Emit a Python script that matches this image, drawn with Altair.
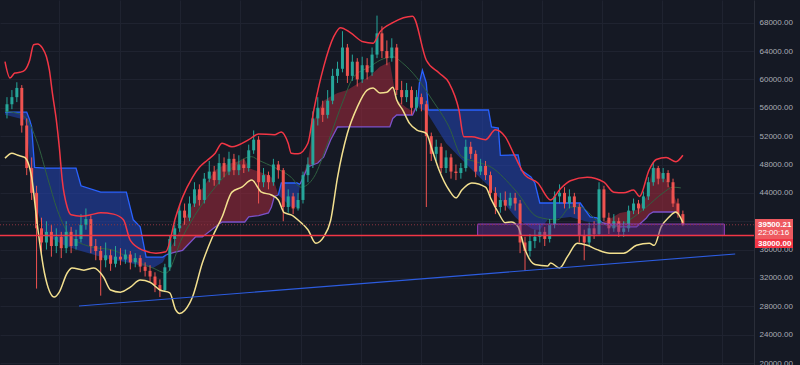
import altair as alt
import pandas as pd

# ---------------- data (prices in thousands of USD) ----------------
close = [56.5,57.5,58.8,53.5,47.5,44.0,39.0,37.0,38.5,36.5,
         37.8,36.2,38.5,36.5,37.5,39.5,40.3,36.5,35.8,34.5,
         35.2,34.0,35.0,34.6,35.3,34.2,34.8,33.6,33.0,32.2,
         31.0,30.3,33.5,37.5,39.0,41.5,40.5,42.5,44.5,43.0,
         46.0,47.0,45.8,48.2,47.0,48.8,47.2,48.0,47.5,50.0,
         51.5,45.5,46.5,45.5,48.0,47.2,42.0,43.5,41.8,43.0,
         46.5,48.0,54.5,56.0,55.0,57.0,60.5,61.5,64.5,60.5,
         62.5,60.0,62.0,61.0,63.5,66.5,64.0,63.0,64.5,58.5,
         57.5,58.5,56.0,57.5,56.5,52.0,49.5,50.5,47.5,49.0,
         47.0,46.8,47.5,50.5,49.5,47.0,47.8,46.5,44.0,42.0,
         43.0,42.2,43.3,42.5,37.0,35.8,37.2,37.8,38.5,37.5,
         39.5,43.5,44.0,42.5,43.5,42.0,38.0,37.0,39.0,38.2,
         44.5,40.5,39.0,40.0,38.5,39.0,41.5,42.5,41.8,43.5,
         45.5,47.5,46.0,46.8,45.5,42.5,41.0,39.5]
first_open = 55.5
high = [57.5,58.5,59.6,59.2,54.5,49.0,45.0,40.5,40.0,39.5,
        39.0,38.5,40.0,39.2,38.8,41.0,41.8,40.8,37.5,36.5,
        37.0,36.0,36.5,36.2,36.0,35.8,35.5,35.2,34.2,33.8,
        32.8,31.8,34.0,38.0,40.0,42.3,42.5,43.5,45.5,45.2,
        46.8,48.5,47.8,49.5,49.0,49.8,49.5,49.3,48.8,50.8,
        52.8,52.0,47.5,47.0,48.8,48.5,47.5,44.5,44.0,44.0,
        47.0,49.0,55.5,57.5,57.0,58.5,61.5,62.5,66.8,65.0,
        63.5,63.0,63.2,63.0,64.5,69.0,67.5,65.5,65.8,65.0,
        59.8,59.5,59.0,58.5,58.0,57.0,52.5,51.5,51.0,50.0,
        49.5,48.0,48.2,51.5,51.2,50.0,48.8,48.5,47.0,44.8,
        44.0,44.2,44.0,44.0,43.0,37.8,38.2,38.8,39.5,39.2,
        40.3,44.2,45.2,44.8,44.5,44.0,42.5,38.8,39.8,40.0,
        45.5,45.0,41.2,41.0,40.5,40.0,42.2,43.2,43.0,44.2,
        46.2,48.3,47.8,47.5,47.2,46.0,43.2,41.5]
low = [54.5,55.8,56.8,52.5,46.5,43.0,30.5,35.5,36.0,35.0,
       35.5,34.8,35.5,35.5,36.0,37.0,38.8,35.5,34.5,29.5,
       33.5,33.0,33.5,33.8,34.0,33.2,33.5,32.8,32.2,31.5,
       30.0,29.3,30.0,33.0,36.5,38.5,39.5,40.0,42.0,42.2,
       42.5,45.5,45.0,45.2,46.2,46.5,46.5,46.5,46.8,47.0,
       49.5,42.5,44.8,44.5,45.0,46.0,40.0,41.2,41.0,41.5,
       42.5,45.5,47.5,53.5,54.0,54.5,56.5,59.5,61.0,59.5,
       59.8,59.0,59.5,60.0,60.5,63.0,63.0,62.0,62.5,57.8,
       56.5,56.8,55.0,55.5,55.5,42.0,48.5,48.5,46.8,46.8,
       46.0,45.8,46.0,47.0,48.8,46.2,46.5,45.8,43.5,41.0,
       41.2,41.5,41.8,41.5,35.5,33.0,35.0,36.2,37.0,36.5,
       37.0,39.0,42.5,41.8,41.8,41.0,37.0,34.5,36.5,37.5,
       38.0,40.0,38.2,38.5,37.8,37.8,38.5,41.0,41.0,41.5,
       43.0,45.0,45.2,45.5,44.8,42.0,40.5,39.3]

# upper band (red)
up_t = [0,5,10,15,20,25,29,33,38,42,45,48,52,55,58,63,67,77,87,97,110,120,127,140,153,163,
        173,180,190,197,205,213,220,230,247,257,273,280,287,290,297,307,313,323,333,340,350,363,
        373,380,393,413,427,440,450,460,465,473,487,497,507,517,527,540,553,563,573,590,607,617,
        627,637,643,653,660,670,680,687]
up_p = [62.5,60.2,60.9,61.0,61.3,62.7,64.9,65.0,64.4,63.2,61.3,58.1,54.3,50.5,45.8,42.0,40.9,40.7,40.9,41.2,41.0,40.2,37.3,35.9,35.5,35.7,
        40.6,43.4,46.2,47.6,48.6,49.6,51.0,50.5,51.5,52.3,52.2,52.6,51.0,49.6,49.5,51.0,55.7,61.8,66.0,67.3,66.6,65.3,
        65.1,66.7,68.0,68.9,62.7,60.9,59.5,55.7,51.9,51.9,51.5,52.9,51.9,49.1,46.5,45.4,43.0,44.6,45.7,46.2,45.5,44.1,
        44.0,44.4,43.5,47.3,48.7,49.0,48.4,49.3]

# lower band (yellow)
lo_t = [0,7,13,20,27,33,40,50,55,63,68,80,90,100,107,117,127,137,147,157,167,173,177,187,190,200,210,220,230,240,250,
        260,270,277,283,290,300,307,315,323,330,337,347,357,367,373,380,387,393,397,403,410,417,427,433,440,450,457,
        463,473,487,493,500,507,513,520,527,537,550,553,562,570,580,590,600,613,627,640,653,658,665,673,680,687]
lo_p = [48.9,49.6,49.3,49.0,46.2,39.2,32.7,29.3,30.0,32.7,33.4,33.1,33.4,32.1,30.3,30.0,30.7,31.7,31.4,30.3,29.9,27.5,27.0,28.4,29.3,34.1,37.7,40.6,44.1,44.8,45.8,
        44.1,43.7,43.0,41.2,40.9,39.8,38.8,36.9,37.8,40.1,46.2,52.4,56.1,58.5,58.8,58.1,58.2,58.9,57.1,55.7,53.8,52.9,52.4,50.0,47.2,44.4,43.3,
        44.4,45.4,44.8,43.0,41.2,39.8,39.9,39.2,36.0,33.9,33.7,34.1,33.4,35.0,36.9,36.6,36.0,35.5,35.5,36.6,36.9,36.6,39.2,40.6,41.3,39.8]

# middle line (green)
mid_t = [0,10,20,33,43,53,67,87,110,130,150,163,180,213,250,257,273,290,300,313,327,343,353,370,380,393,403,417,
         433,450,463,477,493,517,540,560,573,583,600,617,633,650,667,677,685]
mid_p = [55.5,55.3,54.7,51.0,46.2,41.6,37.8,36.4,35.9,34.5,33.4,32.7,37.8,44.8,49.1,48.6,47.6,46.2,44.8,46.2,51.0,57.1,60.3,61.8,62.7,63.2,62.3,60.3,
         57.1,53.3,49.1,48.4,47.6,44.4,40.6,40.2,42.0,42.0,40.1,39.2,40.2,42.0,44.0,44.8,44.7]

# cloud segments: (kind, t, top, bottom)
cloud_segments = [
    ("bear", [0,20,22,25,27,30,40,60,72,77,97,100,123,130,137,143,150,160,164],
             [55.4,55.4,55.4,54.3,53.3,47.6,47.5,47.5,47.5,45.0,44.1,44.1,44.1,40.2,39.2,34.95,34.95,34.95,35.3],
             [55.0,54.3,53.0,48.6,46.0,43.0,38.1,36.6,36.0,35.8,35.0,34.8,34.2,34.0,33.8,33.6,33.4,34.2,35.3]),
    ("bull", [164,173,180,190,193,200,213,220,230,243,247,257,267,270,273,277],
             [35.3,37.5,39.75,42.3,43.4,44.6,47.2,47.8,48.2,48.7,47.5,47.0,46.5,46.2,45.5,43.7],
             [35.3,35.66,35.9,37.35,37.78,37.78,39.19,39.89,39.89,39.89,40.6,40.8,41.16,42.0,43.5,43.7]),
    ("bear", [277,280,290,296,299],
             [43.7,45.39,45.39,45.39,45.2],
             [43.7,43.3,42.0,42.0,45.2]),
    ("bull", [299,307,313,317,323,330,337,347,363,370,380,390,393,397,407,413,418],
             [45.2,48.5,54.0,55.5,57.0,57.6,58.1,58.5,59.9,60.5,61.8,62.5,60.0,57.1,56.0,55.5,56.5],
             [45.2,47.65,48.0,48.21,49.06,51.46,53.29,53.3,53.3,53.3,53.3,53.3,54.5,54.98,54.98,54.98,56.5]),
    ("bear", [418,420,423,427,429,447,470,487,490,493,500,502,517,520,523,533,537,542,550,573,583,588,593,600,605],
             [56.5,59.5,61.3,59.5,55.69,55.69,55.69,55.69,55.69,53.3,53.15,49.3,49.34,49.34,47.22,46.24,45.39,42.57,42.57,42.57,42.57,41.58,40.6,40.46,39.8],
             [56.5,56.0,55.7,55.5,55.0,51.0,47.7,45.4,45.0,44.6,43.4,43.2,40.6,40.2,40.0,39.0,38.8,38.8,40.2,40.6,40.2,40.0,39.9,39.8,39.8]),
    ("bull", [605,613,623,640,650,653,657,663,670,677,683],
             [39.8,40.3,41.16,41.58,43.41,45.5,47.65,47.22,45.81,43.98,41.86],
             [39.8,39.5,39.2,39.2,40.46,41.0,41.3,41.3,41.3,41.3,41.3]),
]

# levels / annotations
support_level = 38.0
last_price = 39.50021
zone_t = [479, 729]
zone_p = [38.0, 39.6]
trend_t = [75, 740]
trend_p = [28.04, 35.38]
tick_values = [20000, 24000, 28000, 32000, 36000, 40000, 44000, 48000,
               52000, 56000, 60000, 64000, 68000]
hidden_tick = 40000   # covered by the last-price tag in the reference
vgrid = [55, 117, 177, 238, 300, 361, 422, 483, 544, 605, 666, 727]
tag_text = ["39500.21", "22:00:16", "38000.00"]

# ---------------- build tables ----------------
K = 1000
opens = [first_open] + close[:-1]
candles = pd.DataFrame({
    "t": [2 + 5 * i for i in range(len(close))],
    "o": [v * K for v in opens],
    "c": [v * K for v in close],
    "h": [v * K for v in high],
    "l": [v * K for v in low],
})

rows, edge_rows = [], []
for n, (kind, ts, tops, bots) in enumerate(cloud_segments):
    for t, a, b in zip(ts, tops, bots):
        rows.append({"seg": n, "kind": kind, "t": t, "top": a * K, "bot": b * K})
        edge_rows.append({"seg": n, "kind": kind, "t": t,
                          "p": (a if kind == "bear" else b) * K})
cloud = pd.DataFrame(rows)
edges = pd.DataFrame(edge_rows)

upper = pd.DataFrame({"t": up_t, "p": [v * K for v in up_p]})
lower = pd.DataFrame({"t": lo_t, "p": [v * K for v in lo_p]})
middle = pd.DataFrame({"t": mid_t, "p": [v * K for v in mid_p]})
trend = pd.DataFrame({"t": trend_t, "p": [v * K for v in trend_p]})
zone = pd.DataFrame({"t0": [zone_t[0]], "t1": [zone_t[1]],
                     "p0": [zone_p[0] * K], "p1": [zone_p[1] * K]})
levels = pd.DataFrame({"p": [support_level * K]})
lastp = pd.DataFrame({"p": [last_price * K]})

FONT = "Liberation Sans"
xs = alt.Scale(domain=[0, 754], nice=False, zero=False)
ys = alt.Scale(domain=[19722, 71201], nice=False, zero=False)
x_axis = alt.Axis(values=vgrid, labels=False, ticks=False, domain=False, grid=True,
                  gridColor="#1f2330", title=None)
y_axis = alt.Axis(orient="right", values=tick_values, grid=True,
                  labelExpr=f"datum.value == {hidden_tick} ? '' : format(datum.value, '.2f')",
                  gridColor="#1f2330", ticks=False, domain=True, domainColor="#2a2e39",
                  labelColor="#a9acb5", labelFont=FONT, labelFontSize=8, labelPadding=5,
                  labelOverlap=False, title=None)


def X(f="t"):
    return alt.X(f"{f}:Q", scale=xs, axis=x_axis)


def Y(f="p"):
    return alt.Y(f"{f}:Q", scale=ys, axis=y_axis)


BULL, BEAR = "#a52a3c", "#2346b8"
cloud_area = alt.Chart(cloud).mark_area(opacity=0.55, interpolate="linear").encode(
    x=X(), y=Y("top"), y2="bot:Q", detail="seg:N",
    color=alt.condition("datum.kind == 'bull'", alt.value(BULL), alt.value(BEAR)),
)
cloud_edge = alt.Chart(edges).mark_line(strokeWidth=1.3).encode(
    x=X(), y=Y(), detail="seg:N",
    color=alt.condition("datum.kind == 'bull'", alt.value("#7b52c9"), alt.value("#2962ff")),
)
mid_line = alt.Chart(middle).mark_line(color="#2f6040", strokeWidth=1,
                                       interpolate="monotone").encode(x=X(), y=Y())
up_line = alt.Chart(upper).mark_line(color="#f23645", strokeWidth=1.5,
                                     interpolate="monotone").encode(x=X(), y=Y())
lo_line = alt.Chart(lower).mark_line(color="#f3e08f", strokeWidth=1.5,
                                     interpolate="monotone").encode(x=X(), y=Y())

ccol = alt.condition("datum.c >= datum.o", alt.value("#26a69a"), alt.value("#ef5350"))
wicks = alt.Chart(candles).mark_rule(strokeWidth=1).encode(x=X(), y=Y("l"), y2="h:Q", color=ccol)
bodies = alt.Chart(candles).mark_bar(size=3).encode(x=X(), y=Y("o"), y2="c:Q", color=ccol)

zone_rect = alt.Chart(zone).mark_rect(fill="#6a2c91", fillOpacity=0.45, stroke="#9b3fc0",
                                       strokeWidth=1).encode(
    x=X("t0"), x2="t1:Q", y=Y("p0"), y2="p1:Q")
support = alt.Chart(levels).mark_rule(color="#f23645", strokeWidth=1.5).encode(y=Y())
last_line = alt.Chart(lastp).mark_rule(color="#8c3540", strokeWidth=1,
                                       strokeDash=[1, 2]).encode(y=Y())
trend_line = alt.Chart(trend).mark_line(color="#2c5ce0", strokeWidth=1.2).encode(x=X(), y=Y())

tag_df = pd.DataFrame({"txt": tag_text})
tag1 = alt.Chart(tag_df).transform_filter(alt.datum.txt == tag_text[0]).mark_rect(
    fill="#ee5a60").encode(x=alt.value(755), x2=alt.value(793), y=alt.value(219), y2=alt.value(239))
tag2 = alt.Chart(tag_df).transform_filter(alt.datum.txt == tag_text[2]).mark_rect(
    fill="#f23645").encode(x=alt.value(755), x2=alt.value(793), y=alt.value(239), y2=alt.value(248))
t_a = alt.Chart(tag_df).transform_filter(alt.datum.txt == tag_text[0]).mark_text(
    align="left", baseline="middle", font=FONT, fontSize=8, fontWeight="bold", color="white"
).encode(x=alt.value(758), y=alt.value(224.5), text="txt:N")
t_b = alt.Chart(tag_df).transform_filter(alt.datum.txt == tag_text[1]).mark_text(
    align="left", baseline="middle", font=FONT, fontSize=8, color="white"
).encode(x=alt.value(758), y=alt.value(233), text="txt:N")
t_c = alt.Chart(tag_df).transform_filter(alt.datum.txt == tag_text[2]).mark_text(
    align="left", baseline="middle", font=FONT, fontSize=8, fontWeight="bold", color="white"
).encode(x=alt.value(758), y=alt.value(244), text="txt:N")

chart = alt.layer(
    cloud_area, cloud_edge, mid_line, wicks, bodies, up_line, lo_line,
    zone_rect, last_line, support, trend_line, tag1, tag2, t_a, t_b, t_c
).properties(
    width=754, height=365, background="#151924",
    padding={"left": 0, "top": 0, "right": 46, "bottom": 0},
    autosize=alt.AutoSizeParams(type="none"),
).configure_view(stroke=None)

chart.save("out.html", embed_options={"renderer": "svg", "actions": False})
